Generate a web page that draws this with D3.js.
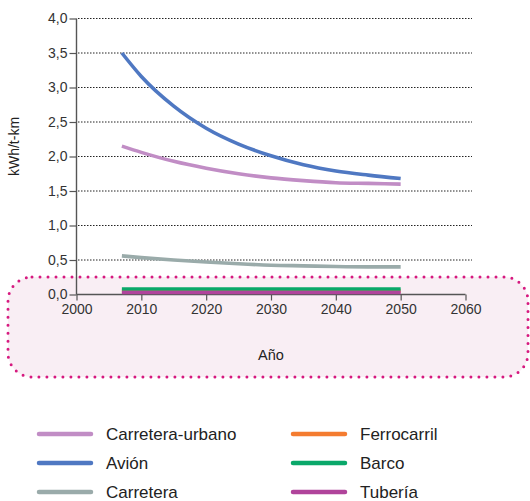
<!DOCTYPE html>
<html><head><meta charset="utf-8">
<script src="https://cdn.jsdelivr.net/npm/d3@7"></script>
<style>body{margin:0;background:#fff}svg{display:block;font-family:"Liberation Sans",Arial,sans-serif}</style>
</head><body>
<svg id="c" width="530" height="501"></svg>
<script>
const years = [2007, 2010, 2015, 2020, 2025, 2030, 2035, 2040, 2045, 2050];
const carreteraUrbano = [2.15, 2.06, 1.93, 1.83, 1.75, 1.69, 1.65, 1.62, 1.61, 1.60];
const avion = [3.50, 3.16, 2.73, 2.41, 2.18, 2.01, 1.88, 1.79, 1.73, 1.68];
const carretera = [0.56, 0.535, 0.50, 0.47, 0.445, 0.425, 0.415, 0.405, 0.40, 0.40];
const ferrocarril = [0.05, 0.05, 0.05, 0.05, 0.05, 0.05, 0.05, 0.05, 0.05, 0.05];
const barco = [0.08, 0.08, 0.08, 0.08, 0.08, 0.08, 0.08, 0.08, 0.08, 0.08];
const tuberia = [0.03, 0.03, 0.03, 0.03, 0.03, 0.03, 0.03, 0.03, 0.03, 0.03];
const seriesNames = ["Carretera-urbano", "Avión", "Carretera", "Ferrocarril", "Barco", "Tubería"];
const seriesColors = ["#c18dc5", "#4f78c2", "#9aabaa", "#f47c30", "#0aa86a", "#b0449b"];
const yTicks = [0, 0.5, 1.0, 1.5, 2.0, 2.5, 3.0, 3.5, 4.0];
const xTicks = [2000, 2010, 2020, 2030, 2040, 2050, 2060];
const yLabel = "kWh/t-km";
const xLabel = "Año";

const seriesValues = [carreteraUrbano, avion, carretera, ferrocarril, barco, tuberia];
const svg = d3.select("#c");
const x = d3.scaleLinear().domain([2000, 2060]).range([76.5, 465.5]);
const y = d3.scaleLinear().domain([0, 4]).range([294.5, 18.5]);

// highlight box
svg.append("rect").attr("x", 8).attr("y", 277).attr("width", 520).attr("height", 100)
  .attr("rx", 24).attr("ry", 24).attr("fill", "#f9eef4")
  .attr("stroke", "#d6197f").attr("stroke-width", 3)
  .attr("stroke-dasharray", "0 8").attr("stroke-linecap", "round");

// grid
svg.append("g").selectAll("line").data(yTicks.filter(d => d > 0)).join("line")
  .attr("x1", 78).attr("x2", 472).attr("y1", d => y(d)).attr("y2", d => y(d))
  .attr("stroke", "#222").attr("stroke-width", 1).attr("stroke-dasharray", "1.5 1.5");

// y axis
const fmt = d => d3.format(".1f")(d).replace(".", ",");
const ya = svg.append("g").attr("transform", "translate(76.5,0)")
  .call(d3.axisLeft(y).tickValues(yTicks).tickFormat(fmt).tickSize(7).tickPadding(2));
ya.select(".domain").attr("stroke", "#555").attr("stroke-width", 1.4).attr("d", `M0,${y(0)}V${y(4)}`);
ya.selectAll(".tick line").attr("stroke", "#555").attr("stroke-width", 1.2);
ya.selectAll("text").attr("font-size", 14).attr("fill", "#333").attr("font-family", "Liberation Sans, Arial, sans-serif");

// x axis
const xa = svg.append("g").attr("transform", `translate(0,${y(0)})`)
  .call(d3.axisBottom(x).tickValues(xTicks).tickFormat(d3.format("d")).tickSize(6).tickPadding(4));
xa.select(".domain").attr("stroke", "#555").attr("stroke-width", 1.4).attr("d", `M${x(2000)},0H${x(2060)}`);
xa.selectAll(".tick line").attr("stroke", "#555").attr("stroke-width", 1.2);
xa.selectAll("text").attr("font-size", 14).attr("fill", "#333").attr("font-family", "Liberation Sans, Arial, sans-serif");

// labels
svg.append("text").attr("transform", "translate(19,146.5) rotate(-90)").attr("text-anchor", "middle")
  .attr("font-size", 14).attr("fill", "#222").text(yLabel);
svg.append("text").attr("x", 271).attr("y", 360).attr("text-anchor", "middle")
  .attr("font-size", 14.5).attr("fill", "#222").text(xLabel);

// lines
const line = d3.line().x((d, i) => x(years[i])).y(d => y(d)).curve(d3.curveMonotoneX);
svg.append("g").selectAll("path").data(seriesValues).join("path")
  .attr("d", d => line(d)).attr("fill", "none")
  .attr("stroke", (d, i) => seriesColors[i]).attr("stroke-width", 3.6)
  .attr("stroke-linecap", "butt");

// legend
const lg = svg.append("g").selectAll("g").data(seriesNames).join("g")
  .attr("transform", (d, i) => `translate(${i < 3 ? 39 : 293},${434 + (i % 3) * 29})`);
lg.append("line").attr("x1", 0).attr("x2", 52).attr("y1", 0).attr("y2", 0)
  .attr("stroke", (d, i) => seriesColors[i]).attr("stroke-width", 4.5).attr("stroke-linecap", "round");
lg.append("text").attr("x", 67).attr("y", 6).attr("font-size", 17).attr("fill", "#222").text(d => d);
</script>
</body></html>
